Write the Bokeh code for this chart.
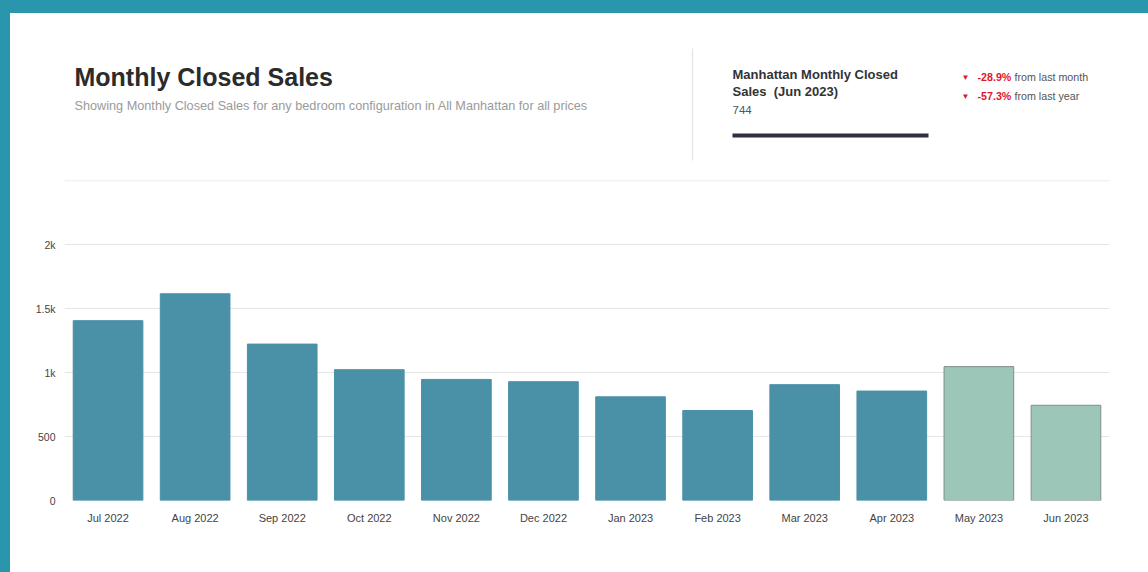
from bokeh.plotting import figure
from bokeh.models import ColumnDataSource, Range1d, FixedTicker, Span, Label
from bokeh.layouts import column
from bokeh.embed import file_html
from bokeh.resources import INLINE

# ---------------- data ----------------
months = ["Jul 2022", "Aug 2022", "Sep 2022", "Oct 2022", "Nov 2022", "Dec 2022",
          "Jan 2023", "Feb 2023", "Mar 2023", "Apr 2023", "May 2023", "Jun 2023"]
closed_sales = [1405, 1615, 1222, 1022, 946, 928, 810, 703, 905, 855, 1046, 744]
y_ticks = [0, 500, 1000, 1500, 2000]
y_tick_labels = ["0", "500", "1k", "1.5k", "2k"]

title_text = "Monthly Closed Sales"
subtitle_text = ("Showing Monthly Closed Sales for any bedroom configuration in "
                 "All Manhattan for all prices")
kpi_title_1 = "Manhattan Monthly Closed"
kpi_title_2 = "Sales\u00a0\u00a0(Jun 2023)"
kpi_value = "744"
change_month = "-28.9%"
change_month_txt = "from last month"
change_year = "-57.3%"
change_year_txt = "from last year"

# ---------------- style ----------------
FONT = "Liberation Sans"
MAIN = "#4a91a8"
LIGHT = "#9cc6b7"
TEAL = "#2a96ad"
GRID = "#e6e6e6"
RED = "#e0162b"
n_highlight = 2

idx = list(range(len(months)))
colors = [MAIN if i < len(months) - n_highlight else LIGHT for i in idx]
lines = [MAIN if i < len(months) - n_highlight else "#7f8f8c" for i in idx]

src = ColumnDataSource(dict(pos=idx, month=months, sales=closed_sales, color=colors, line=lines))

OX, OY = 10, 13          # page offset of the white card
W = 1148 - OX
HH = 165                 # header height
CH = 572 - OY - HH       # chart height
BL, BR, BT, BB = 54, 39, 2, 72
WHITE_BG = {"background-color": "white"}

# ---------------- header (page-pixel coordinates) ----------------
hdr = figure(x_range=Range1d(OX + BL, OX + W - BR), y_range=Range1d(OY + HH, OY),
             width=W, height=HH, output_backend="svg", toolbar_location=None,
             min_border_left=BL, min_border_right=BR,
             min_border_top=0, min_border_bottom=0)
hdr.margin = (OY, 0, 0, OX)
hdr.styles = WHITE_BG
hdr.axis.visible = False
hdr.grid.visible = False
hdr.outline_line_color = None
hdr.background_fill_color = "white"
hdr.border_fill_color = "white"


def lab(x, y, text, size, color="#333333", bold=False):
    hdr.add_layout(Label(x=x, y=y, text=text,
                         text_font=FONT, text_font_size=size, text_color=color,
                         text_font_style="bold" if bold else "normal",
                         text_baseline="middle", text_align="left"))


lab(74, 76, title_text, "25px", "#2b2b2b", True)
lab(74, 105, subtitle_text, "12.7px", "#9a9a9a")

lab(732, 74, kpi_title_1, "13px", "#333333", True)
lab(732, 91, kpi_title_2, "13px", "#333333", True)
lab(732, 109, kpi_value, "11.5px", "#555555")

lab(961, 77, "\u25BC", "8px", RED)
lab(977, 76, change_month, "10.7px", RED, True)
lab(1014, 76, change_month_txt, "10.7px", "#555555")
lab(961, 96, "\u25BC", "8px", RED)
lab(977, 95, change_year, "10.7px", RED, True)
lab(1014, 95, change_year_txt, "10.7px", "#555555")

hdr.segment(x0=[692], y0=[48], x1=[692], y1=[160], line_color="#e8e8e8", line_width=1.5)
hdr.segment(x0=[732], y0=[135], x1=[928], y1=[135], line_color="#2e2f45", line_width=4)

# ---------------- chart ----------------
p = figure(x_range=Range1d(-0.5, len(months) - 0.5), y_range=Range1d(0, 2500),
           width=W, height=CH, output_backend="svg", toolbar_location=None,
           min_border_left=BL, min_border_right=BR, min_border_top=BT, min_border_bottom=BB)
p.margin = (0, 0, 0, OX)
p.styles = WHITE_BG
p.outline_line_color = None
p.background_fill_color = "white"
p.border_fill_color = "white"

p.vbar(x="pos", top="sales", width=0.8, source=src,
       fill_color="color", line_color="line", line_width=1)

p.yaxis.ticker = FixedTicker(ticks=y_ticks)
p.yaxis.major_label_overrides = {t: l for t, l in zip(y_ticks, y_tick_labels)}
p.yaxis.axis_line_color = None
p.yaxis.major_tick_line_color = None
p.yaxis.minor_tick_line_color = None
p.yaxis.major_label_text_font = FONT
p.yaxis.major_label_text_font_size = "10.5px"
p.yaxis.major_label_text_color = "#444444"
p.yaxis.major_label_standoff = 3

p.xaxis.ticker = FixedTicker(ticks=idx)
p.xaxis.major_label_overrides = {i: m for i, m in zip(idx, months)}
p.xaxis.axis_line_color = None
p.xaxis.major_tick_line_color = None
p.xaxis.minor_tick_line_color = None
p.xaxis.major_label_text_font = FONT
p.xaxis.major_label_text_font_size = "11px"
p.xaxis.major_label_text_color = "#444444"
p.xaxis.major_label_standoff = 5

p.xgrid.grid_line_color = None
p.ygrid.grid_line_color = GRID
p.add_layout(Span(location=2500, dimension="width", line_color=GRID, line_width=1.5))

layout = column(hdr, p, spacing=0, styles={"background-color": TEAL})

open("out.html", "w").write(file_html(layout, INLINE))
